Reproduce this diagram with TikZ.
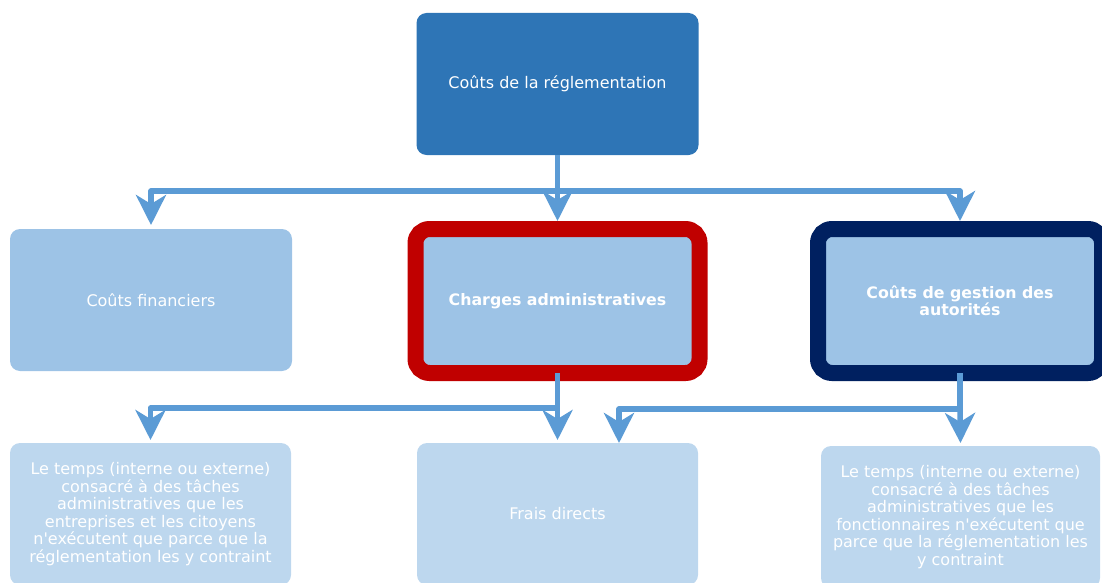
\documentclass[tikz,border=0pt]{standalone}
\usepackage{fontspec}
\setmainfont{DejaVu Sans}
\usetikzlibrary{arrows.meta}
\definecolor{topblue}{HTML}{2E75B6}
\definecolor{midblue}{HTML}{9DC3E6}
\definecolor{lowblue}{HTML}{BDD7EE}
\definecolor{connblue}{HTML}{5B9BD5}
\definecolor{admred}{HTML}{C00000}
\definecolor{navy}{HTML}{002060}
\begin{document}
\begin{tikzpicture}[x=1pt,y=-1pt,
  box/.style={rounded corners=10pt, minimum width=282pt, minimum height=142pt,
    text=white, align=center, inner sep=0pt, outer sep=0pt,
    font=\fontsize{16}{17.5}\selectfont},
  framed/.style={box, line width=16pt, rounded corners=14pt,
    minimum width=284pt, minimum height=144pt,
    font=\fontsize{15.8}{17.5}\selectfont\bfseries},
  conn/.style={draw=connblue, line width=5.5pt, line join=round},
  arr/.style={conn, -{Stealth[length=30pt,width=30pt,inset=9pt]}}
]
\useasboundingbox (0,0) rectangle (1102,583);
\node[box, fill=topblue] (top) at (557.5,84) {Coûts de la réglementation};
\node[box, fill=midblue] (fin) at (151,300) {Coûts financiers};
\node[framed, fill=midblue, draw=admred] (adm) at (557.5,301) {Charges administratives};
\node[framed, fill=midblue, draw=navy] (gest) at (960,301) {Coûts de gestion des\\autorités};
\node[box, fill=lowblue, minimum width=281pt] (bl) at (150.5,514)
  {Le temps (interne ou externe)\\consacré à des tâches\\administratives que les\\entreprises et les citoyens\\n\textquotesingle exécutent que parce que la\\réglementation les y contraint};
\node[box, fill=lowblue, minimum width=281pt] (bm) at (557.5,514) {Frais directs};
\node[box, fill=lowblue, minimum width=279pt] (br) at (960.5,517)
  {Le temps (interne ou externe)\\consacré à des tâches\\administratives que les\\fonctionnaires n\textquotesingle exécutent que\\parce que la réglementation les\\y contraint};
\coordinate (j1) at (557.5,191);
\coordinate (j2) at (557.5,408);
\coordinate (j3) at (960,409);
\coordinate (e3) at (619,443);
\draw[conn] (top.south) -- (j1);
\draw[arr] (j1) -| ([yshift=4pt]fin.north);
\draw[arr] (j1) -- ([yshift=8pt]adm.north);
\draw[arr] (j1) -| ([yshift=8pt]gest.north);
\draw[conn] (adm.south) -- (j2);
\draw[arr] (j2) -| ([yshift=3pt]bl.north);
\draw[arr] (j2) -- ([yshift=3pt]bm.north);
\draw[conn] (gest.south) -- (j3);
\draw[arr] (j3) -| (e3);
\draw[arr] (j3) -- ([yshift=3pt]br.north);
\end{tikzpicture}
\end{document}
